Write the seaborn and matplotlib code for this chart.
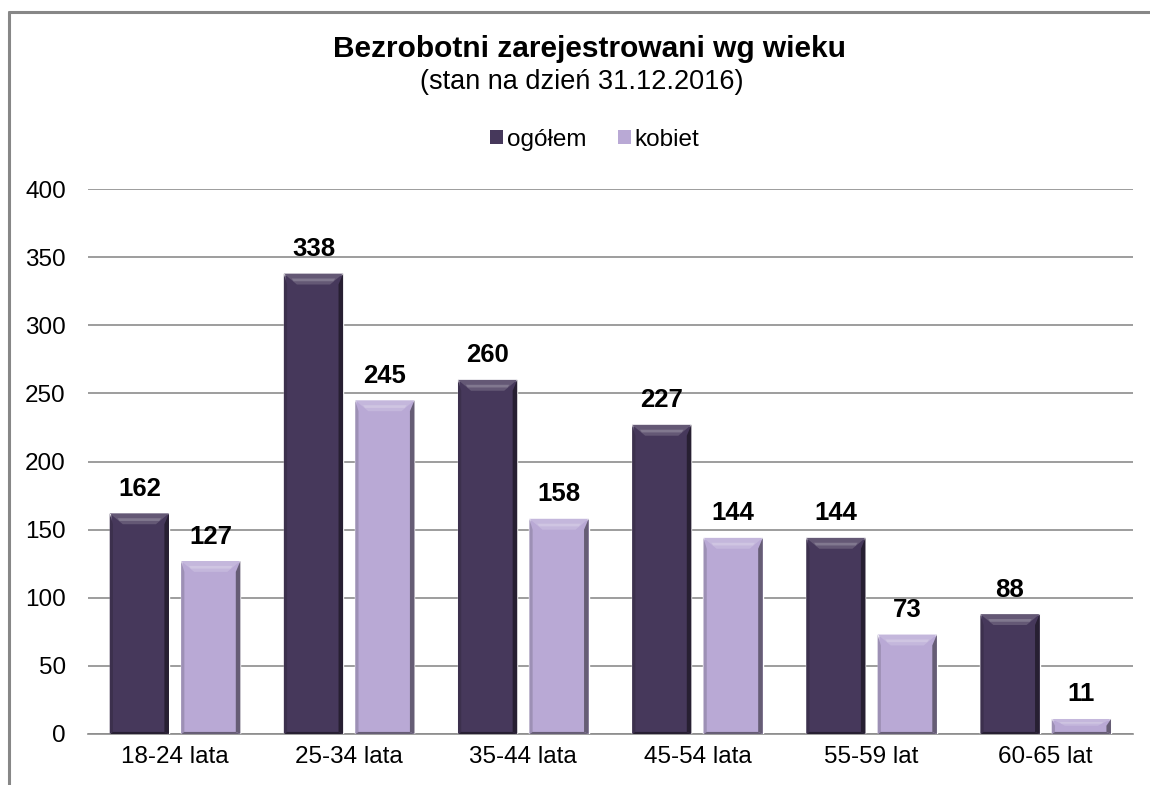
import matplotlib
matplotlib.use("Agg")
import matplotlib.pyplot as plt
import matplotlib.patches as mpatches
from matplotlib.lines import Line2D
import pandas as pd
import seaborn as sns

categories = ["18-24 lata", "25-34 lata", "35-44 lata", "45-54 lata", "55-59 lat", "60-65 lat"]
ogolem = [162, 338, 260, 227, 144, 88]
kobiet = [127, 245, 158, 144, 73, 11]
series = ["ogółem", "kobiet"]
colors = {"ogółem": "#46385b", "kobiet": "#b9a9d5"}

df = pd.DataFrame({
    "wiek": categories * 2,
    "seria": [series[0]] * len(categories) + [series[1]] * len(categories),
    "liczba": ogolem + kobiet,
})

sns.set_style("white")
plt.rcParams["font.family"] = ["Liberation Sans", "DejaVu Sans"]
plt.rcParams["text.color"] = "black"

fig = plt.figure(figsize=(11.5, 7.85), dpi=100)
ax = fig.add_axes([0.0765, 0.065, 0.9085, 0.694])

sns.barplot(data=df, x="wiek", y="liczba", hue="seria", order=categories,
            hue_order=series, palette=colors, width=0.82, gap=0.17,
            saturation=1, errorbar=None, legend=False, ax=ax, zorder=3)

# bevel effect on each bar
for p in ax.patches:
    x, w, h = p.get_x(), p.get_width(), p.get_height()
    if h <= 0:
        continue
    bx = 0.075
    by = min(8, h * 0.45)
    fc = p.get_facecolor()[:3]
    top = tuple(min(1, c + (1 - c) * 0.16) for c in fc)
    hl = tuple(min(1, c + (1 - c) * 0.32) for c in fc)
    right = tuple(c * 0.55 for c in fc)
    left = tuple(c * 0.85 for c in fc)
    ax.add_patch(mpatches.Polygon([(x, h), (x + w, h), (x + w - bx, h - by), (x + bx, h - by)],
                                  closed=True, facecolor=top, edgecolor="none", zorder=4))
    ax.add_patch(mpatches.Polygon([(x + bx * 0.6, h - by * 0.45), (x + w - bx * 0.6, h - by * 0.45),
                                   (x + w - bx * 0.75, h - by * 0.7), (x + bx * 0.75, h - by * 0.7)],
                                  closed=True, facecolor=hl, edgecolor="none", zorder=4))
    ax.add_patch(mpatches.Polygon([(x + w, h), (x + w, 0), (x + w - bx * 0.35, 1.5), (x + w - bx * 0.35, h - by)],
                                  closed=True, facecolor=right, edgecolor="none", zorder=4))
    ax.add_patch(mpatches.Polygon([(x, h), (x, 0), (x + bx * 0.25, 1.5), (x + bx * 0.25, h - by)],
                                  closed=True, facecolor=left, edgecolor="none", zorder=4))
    ax.add_patch(mpatches.Polygon([(x, 0), (x + w, 0), (x + w - bx * 0.35, 1.5), (x + bx * 0.25, 1.5)],
                                  closed=True, facecolor=right, edgecolor="none", zorder=4))
    ax.annotate(f"{int(round(h))}", (x + w / 2, h), xytext=(0, 9), textcoords="offset points",
                ha="center", va="bottom", fontsize=18.5, fontweight="bold", color="black", zorder=5)

ax.set_ylim(0, 400)
ax.set_yticks(range(0, 401, 50))
ax.set_xlim(-0.5, len(categories) - 0.5)
ax.grid(axis="y", color="#8c8c8c", linewidth=1.2, zorder=0)
ax.grid(axis="x", visible=False)
for s in ["top", "right", "left"]:
    ax.spines[s].set_visible(False)
ax.spines["bottom"].set_color("#8c8c8c")
ax.spines["bottom"].set_linewidth(1.2)
ax.spines["bottom"].set_zorder(2)
ax.tick_params(axis="both", length=0, labelsize=17.5, colors="black")
ax.tick_params(axis="y", pad=16)
ax.tick_params(axis="x", pad=9)
ax.set_xlabel("")
ax.set_ylabel("")

fig.text(0.513, 0.937, "Bezrobotni zarejestrowani wg wieku", ha="center", va="center",
         fontsize=21.5, fontweight="bold", color="black")
fig.text(0.506, 0.895, "(stan na dzień 31.12.2016)", ha="center", va="center", fontsize=19.5,
         color="black")

handles = [mpatches.Patch(facecolor=colors[s], edgecolor="none", label=s) for s in series]
fig.legend(handles=handles, loc="center", bbox_to_anchor=(0.517, 0.822), ncol=2, frameon=False,
           fontsize=17.5, handlelength=0.55, handleheight=0.55, handletextpad=0.15, columnspacing=1.3)

# outer chart frame (left and top edges visible, rest cut off)
fx, fy = 8.5 / 1150, 1 - 12 / 785
fig.add_artist(Line2D([fx, 1.0], [fy, fy], transform=fig.transFigure, color="#878787", linewidth=2.2))
fig.add_artist(Line2D([fx, fx], [0.0, fy], transform=fig.transFigure, color="#878787", linewidth=2.2))

fig.savefig("out.png", dpi=100, facecolor="white")
